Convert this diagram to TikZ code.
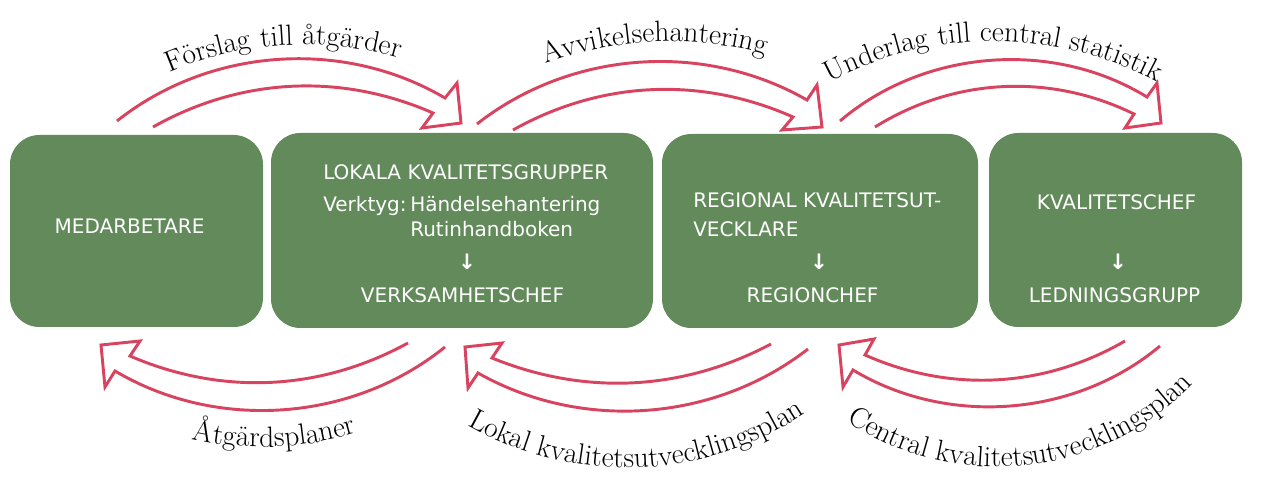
\documentclass[tikz,border=0pt]{standalone}
\usepackage{fontspec}
\usepackage{tikz}
\usetikzlibrary{decorations.text}
\newfontfamily\boxfont{DejaVu Sans}
\definecolor{boxgreen}{HTML}{628A5A}
\definecolor{flowred}{HTML}{D8435F}

\begin{document}
\begin{tikzpicture}[x=0.75pt,y=-0.75pt,
  box/.style={fill=boxgreen,rounded corners=22pt,inner sep=0pt},
  boxtext/.style={text=white,inner sep=0pt,font=\boxfont\fontsize{15}{18}\selectfont},
  downarrow/.style={boxtext,font=\boxfont\bfseries\fontsize{16}{18}\selectfont},
  flow/.style={draw=flowred,line width=2.2pt,line join=miter,looseness=.92},
  flowlabel/.style={decorate,decoration={text along path,text align=center,text={|\fontsize{22}{25}\selectfont|#1}}}]
\useasboundingbox (0,0) rectangle (1265,488);

% the four boxes
\node[box,minimum width=189.75pt,minimum height=144pt] (medarb) at (136.5,231) {};
\node[box,minimum width=286.5pt,minimum height=146.25pt] (lokala) at (462,230.5) {};
\node[box,minimum width=237pt,minimum height=145.5pt] (regional) at (820,231) {};
\node[box,minimum width=189.75pt,minimum height=145.5pt] (kvchef) at (1115.5,230) {};

\node[boxtext,anchor=base] (medarb-t) at (129.5,234) {MEDARBETARE};

\node[boxtext,anchor=base west] (lokala-t1) at (323,180) {LOKALA KVALITETSGRUPPER};
\node[boxtext,anchor=base west] (lokala-t2) at (323,212) {Verktyg:};
\node[boxtext,anchor=base west] (lokala-t3) at (410,212) {Händelsehantering};
\node[boxtext,anchor=base west] (lokala-t4) at (410,237) {Rutinhandboken};
\node[downarrow,anchor=base] (lokala-t5) at (467,270) {↓};
\node[boxtext,anchor=base] (lokala-t6) at (462.5,303) {VERKSAMHETSCHEF};

\node[boxtext,anchor=base west] (regional-t1) at (693,208) {REGIONAL KVALITETSUT-};
\node[boxtext,anchor=base west] (regional-t2) at (693,237) {VECKLARE};
\node[downarrow,anchor=base] (regional-t3) at (819,270) {↓};
\node[boxtext,anchor=base] (regional-t4) at (812.5,303) {REGIONCHEF};

\node[boxtext,anchor=base] (kvchef-t1) at (1116.5,210) {KVALITETSCHEF};
\node[downarrow,anchor=base] (kvchef-t2) at (1118,270) {↓};
\node[boxtext,anchor=base] (kvchef-t3) at (1114.5,303) {LEDNINGSGRUPP};

% upper flows
\draw[flow] (117,121) to[bend left=34.5] (445,98) -- (457,83) -- (461,123) -- (422,128) -- (433,113) to[bend right=26.5] (153,127);
\draw[flow] (477,124) to[bend left=34] (807,100) -- (817,85) -- (822,127) -- (782,130) -- (793,117) to[bend right=26.6] (513,130);
\draw[flow] (840,121) to[bend left=36] (1147,97) -- (1157,83) -- (1161,123) -- (1125,128) -- (1134,114) to[bend right=29] (875,127);

% lower flows
\draw[flow] (445,347) to[bend left=34.8] (115,371) -- (105,387) -- (101,345) -- (140,341) -- (130,356) to[bend right=26] (408,343);
\draw[flow] (808,349) to[bend left=33.7] (478,373) -- (468,388) -- (465,347) -- (502,343) -- (492,358) to[bend right=25] (771,344);
\draw[flow] (1160,346) to[bend left=35.5] (853,370) -- (843,387) -- (839,345) -- (874,339) -- (865,355) to[bend right=27] (1125,341);

\path[flowlabel={Förslag till åtgärder},looseness=.94] (90.7,119.2) to[bend left=35] (483.1,95.2);
\path[flowlabel={Avvikelsehantering},looseness=.93] (459.6,109.4) to[bend left=33] (854.6,92.1);
\path[flowlabel={Underlag till central statistik},looseness=.96] (772.8,120.8) to[bend left=40] (1213.8,120.8);
\path[flowlabel={Åtgärdsplaner},looseness=.94] (86.3,394.7) to[bend right=35] (458.8,381);
\path[flowlabel={Lokal kvalitetsutvecklingsplan}] (408.3,381.5) to[bend right=45] (861.1,365.7);
\path[flowlabel={Central kvalitetsutvecklingsplan},looseness=1.08] (794.4,374.8) to[bend right=55] (1234.3,327.8);
\end{tikzpicture}
\end{document}
